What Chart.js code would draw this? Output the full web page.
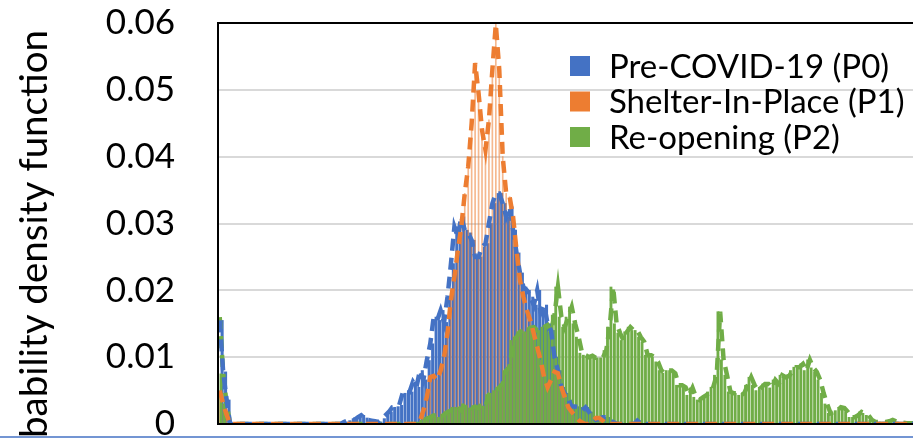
<!DOCTYPE html>
<html>
<head>
<meta charset="utf-8">
<script src="https://cdn.jsdelivr.net/npm/chart.js@4.4.1/dist/chart.umd.min.js"></script>
<style>
html, body { margin: 0; padding: 0; overflow: hidden; background: #fff; }
#crop { position: relative; width: 913px; height: 439px; overflow: hidden; }
#pdf-chart { position: absolute; left: 0; top: 0; display: block; }
</style>
</head>
<body>
<div id="crop"><canvas id="pdf-chart" width="970" height="470"></canvas></div>
<script>
var seriesNames = ['Pre-COVID-19 (P0)', 'Shelter-In-Place (P1)', 'Re-opening (P2)'];
var yTitle = 'Probability density function';
var yTickLabels = ['0', '0.01', '0.02', '0.03', '0.04', '0.05', '0.06'];

// histogram bins (x axis is cropped out of the picture)
var bins = [];
for (var b = 1; b <= 215; b++) bins.push(String(b));

var preCovid = [
  0.0155, 0.0078, 0.0036, 0, 0, 0, 0, 0, 0, 0,
  0, 0, 0, 0, 0, 0, 0, 0, 0, 0,
  0, 0, 0, 0, 0, 0, 0, 0, 0, 0,
  0, 0, 0, 0, 0, 0, 0.0003, 0.0005, 0.0008, 0.0006,
  0.001, 0.0013, 0.0009, 0.0006, 0.0005, 0.0004, 0.0003, 0.0008, 0.0013, 0.0018,
  0.0025, 0.0026, 0.0028, 0.0046, 0.005, 0.0048, 0.0063, 0.0055, 0.008, 0.0066,
  0.0095, 0.012, 0.016, 0.0155, 0.017, 0.0152, 0.019, 0.024, 0.0295, 0.028,
  0.031, 0.029, 0.0286, 0.0275, 0.025, 0.025, 0.0265, 0.027, 0.03, 0.033,
  0.0345, 0.0345, 0.033, 0.031, 0.0325, 0.029, 0.0256, 0.0226, 0.0205, 0.02,
  0.019, 0.0178, 0.02, 0.0166, 0.0178, 0.015, 0.014, 0.01, 0.008, 0.0055,
  0.0046, 0.0036, 0.0026, 0.0026, 0.0025, 0.002, 0.0025, 0.0018, 0.001, 0.0006,
  0.0008, 0.001, 0.001, 0.0005, 0.0003, 0, 0, 0, 0, 0,
  0, 0.0005, 0, 0, 0, 0, 0, 0, 0, 0,
  0, 0, 0, 0, 0, 0, 0, 0, 0, 0,
  0, 0, 0, 0, 0, 0, 0, 0, 0, 0,
  0, 0, 0, 0, 0, 0, 0, 0, 0, 0,
  0, 0, 0, 0, 0, 0, 0, 0, 0, 0,
  0, 0, 0, 0, 0, 0, 0, 0, 0, 0,
  0, 0, 0, 0, 0, 0, 0, 0, 0, 0,
  0, 0, 0, 0, 0, 0, 0, 0, 0, 0,
  0, 0, 0, 0, 0, 0, 0, 0, 0, 0,
  0, 0, 0, 0, 0
];

var shelterInPlace = [
  0.005, 0.003, 0.0014, 0, 0, 0, 0, 0, 0, 0,
  0, 0, 0, 0, 0, 0, 0, 0, 0, 0,
  0, 0, 0, 0, 0, 0, 0, 0, 0, 0,
  0, 0, 0, 0, 0, 0, 0, 0, 0, 0,
  0, 0, 0, 0, 0, 0, 0, 0, 0, 0,
  0, 0, 0, 0, 0, 0, 0, 0, 0.0005, 0.002,
  0.004, 0.007, 0.0072, 0.0066, 0.008, 0.01, 0.0136, 0.0186, 0.022, 0.026,
  0.0295, 0.0345, 0.0385, 0.045, 0.054, 0.0495, 0.044, 0.041, 0.0455, 0.053,
  0.0598, 0.053, 0.04, 0.0345, 0.034, 0.031, 0.026, 0.0215, 0.019, 0.017,
  0.0155, 0.0135, 0.0115, 0.0095, 0.007, 0.0055, 0.0066, 0.0078, 0.0076, 0.0055,
  0.004, 0.0025, 0.0018, 0.0012, 0.0006, 0.0002, 0, 0, 0.0004, 0.0009,
  0.0009, 0.0005, 0, 0, 0, 0, 0, 0, 0, 0,
  0, 0, 0, 0, 0, 0, 0, 0, 0, 0,
  0, 0, 0, 0, 0, 0, 0, 0, 0, 0,
  0, 0, 0, 0, 0, 0, 0, 0, 0, 0,
  0, 0, 0, 0, 0, 0, 0, 0, 0, 0,
  0, 0, 0, 0, 0, 0, 0, 0, 0, 0,
  0, 0, 0, 0, 0, 0, 0, 0, 0, 0,
  0, 0, 0, 0, 0, 0, 0, 0, 0, 0,
  0, 0, 0, 0, 0, 0, 0, 0, 0, 0,
  0, 0, 0, 0, 0, 0, 0, 0, 0, 0,
  0, 0, 0, 0, 0
];

var reopening = [
  0.016, 0.0075, 0.003, 0, 0, 0, 0, 0, 0, 0,
  0, 0, 0, 0, 0, 0, 0, 0, 0, 0,
  0, 0, 0, 0, 0, 0, 0, 0, 0, 0,
  0, 0, 0, 0, 0, 0, 0, 0, 0, 0,
  0, 0, 0, 0, 0, 0, 0, 0, 0, 0,
  0, 0, 0, 0, 0, 0, 0, 0, 0, 0.0006,
  0.0008, 0.001, 0.0013, 0.0012, 0.001, 0.0014, 0.0018, 0.002, 0.0025, 0.0025,
  0.002, 0.003, 0.0028, 0.0024, 0.0026, 0.0024, 0.003, 0.0027, 0.0044, 0.0046,
  0.005, 0.0055, 0.006, 0.008, 0.0085, 0.0125, 0.013, 0.0138, 0.014, 0.0138,
  0.0144, 0.0145, 0.014, 0.014, 0.0145, 0.0148, 0.0138, 0.0163, 0.0205, 0.016,
  0.0145, 0.016, 0.0175, 0.015, 0.013, 0.0106, 0.0103, 0.01, 0.0102, 0.0099,
  0.0099, 0.0099, 0.011, 0.0145, 0.0205, 0.015, 0.0136, 0.0125, 0.0138, 0.0145,
  0.014, 0.014, 0.013, 0.0123, 0.0103, 0.0103, 0.01, 0.0093, 0.008, 0.0076,
  0.008, 0.008, 0.0076, 0.0058, 0.0058, 0.0055, 0.0043, 0.0054, 0.004, 0.0036,
  0.004, 0.0043, 0.0048, 0.0055, 0.0073, 0.0168, 0.0096, 0.0073, 0.0048, 0.0046,
  0.0046, 0.0043, 0.0046, 0.0058, 0.007, 0.0058, 0.005, 0.0055, 0.006, 0.006,
  0.0054, 0.0066, 0.006, 0.0073, 0.007, 0.0072, 0.008, 0.0085, 0.0085, 0.009,
  0.008, 0.0096, 0.0084, 0.0078, 0.0066, 0.0046, 0.003, 0.0016, 0.0018, 0.002,
  0.0025, 0.0024, 0.0018, 0.001, 0.001, 0.0013, 0.0018, 0.0016, 0.0013, 0.0006,
  0.0003, 0.0003, 0.0003, 0.0003, 0.0004, 0.0006, 0.0004, 0.0003, 0.0002, 0.0001,
  0.0001, 0.0001, 0, 0, 0, 0, 0, 0, 0, 0,
  0, 0, 0, 0, 0
];

var blue = '#4472C4', orange = '#ED7D31', green = '#70AD47';
var legendColors = [blue, orange, green];

// frame, legend, rotated axis title and the page rule under the chart
var extras = {
  id: 'extras',
  afterDatasetsDraw: function(chart) {
    var a = chart.chartArea, ctx = chart.ctx;
    ctx.save();
    ctx.strokeStyle = '#000';
    ctx.lineWidth = 2;
    ctx.beginPath();
    ctx.moveTo(a.right, a.top);
    ctx.lineTo(a.left, a.top);
    ctx.lineTo(a.left, a.bottom);
    ctx.lineTo(a.right, a.bottom);
    ctx.stroke();
    ctx.restore();
  },
  afterDraw: function(chart) {
    var ctx = chart.ctx;
    ctx.save();
    ctx.font = '33px Lato';
    ctx.textBaseline = 'middle';
    ctx.textAlign = 'left';
    for (var i = 0; i < seriesNames.length; i++) {
      var cy = 66 + i * 35.5;
      ctx.fillStyle = legendColors[i];
      ctx.fillRect(570, cy - 10, 20, 20);
      ctx.fillStyle = '#000';
      ctx.fillText(seriesNames[i], 609, cy + 1);
    }
    ctx.translate(35, 30);
    ctx.rotate(-Math.PI / 2);
    ctx.font = '38.5px Lato';
    ctx.textAlign = 'right';
    ctx.fillText(yTitle, 0, 0);
    ctx.restore();

    ctx.save();
    ctx.strokeStyle = blue;
    ctx.lineWidth = 1.5;
    ctx.beginPath();
    ctx.moveTo(0, 437);
    ctx.lineTo(chart.width, 437);
    ctx.stroke();
    ctx.restore();
  }
};

function dashed(data, color) {
  return {
    type: 'line',
    data: data,
    borderColor: color,
    borderWidth: 4.5,
    borderDash: [12, 7],
    pointRadius: 0,
    tension: 0,
    fill: false
  };
}

new Chart(document.getElementById('pdf-chart'), {
  type: 'bar',
  data: {
    labels: bins,
    datasets: [
      dashed(shelterInPlace, orange),
      dashed(preCovid, blue),
      dashed(reopening, green),
      { type: 'bar', data: reopening, backgroundColor: green, barThickness: 2.2 },
      { type: 'bar', data: shelterInPlace, backgroundColor: 'rgba(237,125,49,0.55)', barThickness: 1 },
      { type: 'bar', data: preCovid, backgroundColor: blue, barThickness: 2.4 }
    ]
  },
  options: {
    responsive: false,
    animation: false,
    devicePixelRatio: 1,
    // plot runs past the right and bottom edges of the cropped picture
    layout: { padding: { left: 0, top: 23, right: 10, bottom: 46 } },
    plugins: {
      legend: { display: false },
      tooltip: { enabled: false }
    },
    scales: {
      x: { display: false },
      y: {
        min: 0,
        max: 0.06,
        afterFit: function(scale) {
          scale.width = 218;
          scale.paddingTop = 0;
          scale.paddingBottom = 0;
        },
        border: { display: false },
        grid: { color: '#D9D9D9', lineWidth: 2, drawTicks: false },
        ticks: {
          stepSize: 0.01,
          padding: 43,
          color: '#000',
          font: { family: 'Lato', size: 35 },
          callback: function(v, i) { return yTickLabels[i]; }
        }
      }
    }
  },
  plugins: [extras]
});
</script>
</body>
</html>
